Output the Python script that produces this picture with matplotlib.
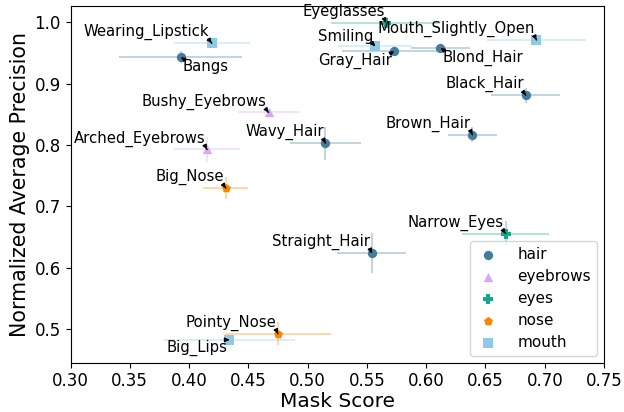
import matplotlib
matplotlib.use("Agg")
import matplotlib.pyplot as plt

# attribute, group, mask score, normalized AP, x error, y error
names = ["Bangs", "Wearing_Lipstick", "Bushy_Eyebrows", "Arched_Eyebrows", "Wavy_Hair",
         "Big_Nose", "Eyeglasses", "Mouth_Slightly_Open", "Smiling", "Gray_Hair",
         "Blond_Hair", "Black_Hair", "Brown_Hair", "Straight_Hair", "Narrow_Eyes",
         "Pointy_Nose", "Big_Lips"]
groups = ["hair", "mouth", "eyebrows", "eyebrows", "hair",
          "nose", "eyes", "mouth", "mouth", "hair",
          "hair", "hair", "hair", "hair", "eyes",
          "nose", "mouth"]
mask_score = [0.393, 0.419, 0.467, 0.415, 0.515,
              0.431, 0.566, 0.693, 0.557, 0.573,
              0.612, 0.684, 0.639, 0.554, 0.667,
              0.475, 0.434]
norm_ap = [0.943, 0.966, 0.853, 0.793, 0.803,
           0.730, 0.999, 0.971, 0.961, 0.953,
           0.958, 0.881, 0.817, 0.624, 0.656,
           0.493, 0.483]
x_err = [0.052, 0.032, 0.026, 0.028, 0.030,
         0.019, 0.046, 0.042, 0.031, 0.044,
         0.025, 0.029, 0.021, 0.029, 0.037,
         0.045, 0.055]
y_err = [0.010, 0.005, 0.006, 0.020, 0.027,
         0.018, 0.005, 0.005, 0.006, 0.006,
         0.005, 0.012, 0.012, 0.033, 0.021,
         0.019, 0.008]

group_names = ["hair", "eyebrows", "eyes", "nose", "mouth"]
group_colors = {"hair": "#457b9d", "eyebrows": "#dba4f7", "eyes": "#13a892",
                "nose": "#fb8500", "mouth": "#8ecae6"}
group_markers = {"hair": "o", "eyebrows": "^", "eyes": "P", "nose": "p", "mouth": "s"}

# label placement: (dx, dy) in points, ha, va
label_pos = {
    "Bangs": (1.5, -1, "left", "top"),
    "Wearing_Lipstick": (-1.5, 2, "right", "bottom"),
    "Bushy_Eyebrows": (-1.5, 2, "right", "bottom"),
    "Arched_Eyebrows": (-1, 2, "right", "bottom"),
    "Wavy_Hair": (-1, 2, "right", "bottom"),
    "Big_Nose": (-1.5, 2, "right", "bottom"),
    "Eyeglasses": (-1, 2.5, "right", "bottom"),
    "Mouth_Slightly_Open": (-1, 2, "right", "bottom"),
    "Smiling": (-1.5, 1.5, "right", "bottom"),
    "Gray_Hair": (-1.5, -1, "right", "top"),
    "Blond_Hair": (1.5, -1, "left", "top"),
    "Black_Hair": (-1.5, 2, "right", "bottom"),
    "Brown_Hair": (-1, 2, "right", "bottom"),
    "Straight_Hair": (-1, 2.5, "right", "bottom"),
    "Narrow_Eyes": (-1.5, 2, "right", "bottom"),
    "Pointy_Nose": (-1, 2, "right", "bottom"),
    "Big_Lips": (-1.5, 0, "right", "top"),
}
relpos_for = {("right", "bottom"): (1, 0), ("right", "top"): (1, 1),
              ("left", "top"): (0, 1), ("left", "bottom"): (0, 0)}

fig, ax = plt.subplots(figsize=(6.24, 4.12), dpi=100)

for g in group_names:
    idx = [i for i, gg in enumerate(groups) if gg == g]
    xs = [mask_score[i] for i in idx]
    ys = [norm_ap[i] for i in idx]
    ax.errorbar(xs, ys, xerr=[x_err[i] for i in idx], yerr=[y_err[i] for i in idx],
                fmt="none", ecolor=group_colors[g], alpha=0.35, elinewidth=1.3, zorder=1)
    ax.scatter(xs, ys, color=group_colors[g], marker=group_markers[g], s=45,
               label=g, zorder=3, linewidths=0)

for i, n in enumerate(names):
    dx, dy, ha, va = label_pos[n]
    ax.annotate(n, (mask_score[i], norm_ap[i]), xytext=(dx, dy), textcoords="offset points",
                ha=ha, va=va, fontsize=10.7, zorder=4,
                arrowprops=dict(arrowstyle="-|>", color="k", lw=1, mutation_scale=6,
                                shrinkA=0, shrinkB=0, relpos=relpos_for[(ha, va)]))

ax.set_xlim(0.30, 0.75)
ax.set_ylim(0.446, 1.026)
ax.set_xticks([0.30, 0.35, 0.40, 0.45, 0.50, 0.55, 0.60, 0.65, 0.70, 0.75])
ax.set_yticks([0.5, 0.6, 0.7, 0.8, 0.9, 1.0])
ax.tick_params(labelsize=12)
ax.set_xlabel("Mask Score", fontsize=14.5, labelpad=1)
ax.set_ylabel("Normalized Average Precision", fontsize=14.8, labelpad=3)

ax.legend(loc="lower right", fontsize=11, handlelength=1.6, handletextpad=1.1,
          borderpad=0.4, labelspacing=0.45, borderaxespad=0.45)

fig.subplots_adjust(left=0.113, right=0.968, bottom=0.12, top=0.985)
fig.savefig("out.png", dpi=100)
